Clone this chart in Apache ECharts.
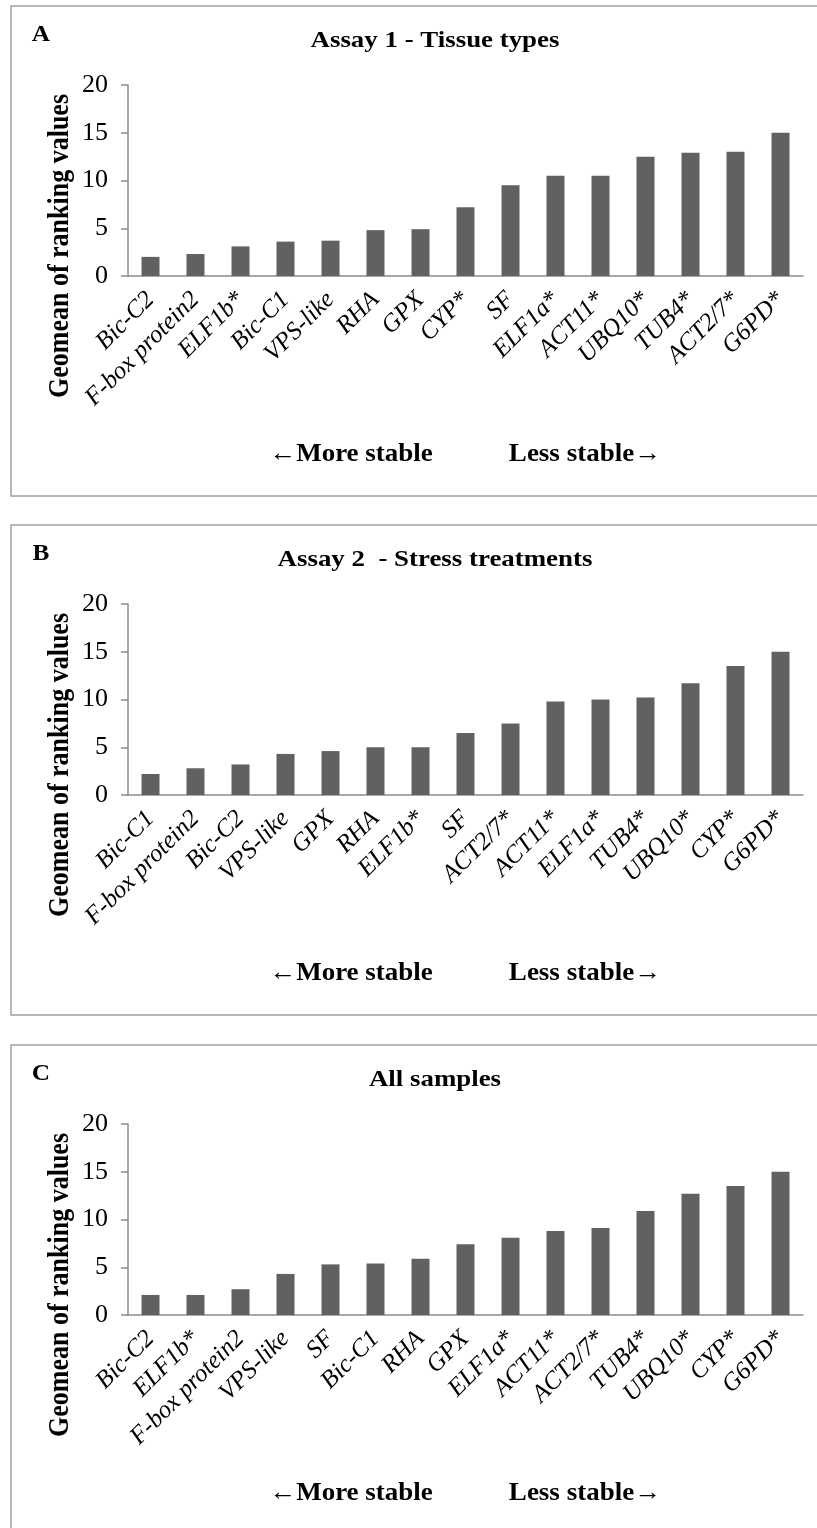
<!DOCTYPE html>
<html>
<head>
<meta charset="utf-8">
<script src="https://cdn.jsdelivr.net/npm/echarts@6/dist/echarts.min.js"></script>
<style>
  html, body { margin: 0; padding: 0; background: #fff; }
  #main { width: 817px; height: 1528px; }
</style>
</head>
<body>
<div id="main"></div>
<script>
// panel A - tissue types
var catsA = ['Bic-C2', 'F-box protein2', 'ELF1b*', 'Bic-C1', 'VPS-like', 'RHA', 'GPX', 'CYP*', 'SF', 'ELF1a*', 'ACT11*', 'UBQ10*', 'TUB4*', 'ACT2/7*', 'G6PD*']
var valsA = [2.0, 2.3, 3.1, 3.6, 3.7, 4.8, 4.9, 7.2, 9.5, 10.5, 10.5, 12.5, 12.9, 13.0, 15.0]

// panel B - stress treatments
var catsB = ['Bic-C1', 'F-box protein2', 'Bic-C2', 'VPS-like', 'GPX', 'RHA', 'ELF1b*', 'SF', 'ACT2/7*', 'ACT11*', 'ELF1a*', 'TUB4*', 'UBQ10*', 'CYP*', 'G6PD*']
var valsB = [2.2, 2.8, 3.2, 4.3, 4.6, 5.0, 5.0, 6.5, 7.5, 9.8, 10.0, 10.2, 11.7, 13.5, 15.0]

// panel C - all samples
var catsC = ['Bic-C2', 'ELF1b*', 'F-box protein2', 'VPS-like', 'SF', 'Bic-C1', 'RHA', 'GPX', 'ELF1a*', 'ACT11*', 'ACT2/7*', 'TUB4*', 'UBQ10*', 'CYP*', 'G6PD*']
var valsC = [2.1, 2.1, 2.7, 4.3, 5.3, 5.4, 5.9, 7.4, 8.1, 8.8, 9.1, 10.9, 12.7, 13.5, 15.0]

var letters = ['A', 'B', 'C']
var titles = ['Assay 1 - Tissue types', 'Assay 2  - Stress treatments', 'All samples']
var yName = 'Geomean of ranking values'
var moreStable = '\u2190More stable'
var lessStable = 'Less stable\u2192'

var myChart = echarts.init(document.getElementById('main'))
var serif = '"Liberation Serif", "Times New Roman", serif'
var axisColor = '#8c8c8c'

var panels = [
  { cats: catsA, vals: valsA },
  { cats: catsB, vals: valsB },
  { cats: catsC, vals: valsC }
]
var tops = [6, 525, 1045]

var grids = []
var xAxes = []
var yAxes = []
var series = []
var graphics = []

function label (x, y, text, font, extra) {
  var el = {
    type: 'text',
    x: x,
    y: y,
    scaleX: 1.1,
    style: { text: text, fill: '#000', font: font, textAlign: 'center', textVerticalAlign: 'middle' }
  }
  return Object.assign(el, extra || {})
}

panels.forEach(function (p, i) {
  var t = tops[i]

  grids.push({ left: 128, right: 14, top: t + 79, height: 191 })

  xAxes.push({
    type: 'category',
    gridIndex: i,
    data: p.cats,
    axisTick: { show: false },
    axisLine: { lineStyle: { color: axisColor, width: 1.5 } },
    axisLabel: {
      interval: 0,
      rotate: 45,
      margin: 20,
      color: '#000',
      fontFamily: serif,
      fontStyle: 'italic',
      fontSize: 25
    }
  })

  yAxes.push({
    type: 'value',
    gridIndex: i,
    min: 0,
    max: 20,
    interval: 5,
    splitLine: { show: false },
    axisLine: { show: true, lineStyle: { color: axisColor, width: 1.5 } },
    axisTick: { show: true, length: 7, lineStyle: { color: axisColor, width: 1.5 } },
    axisLabel: { margin: 20, color: '#000', fontFamily: serif, fontSize: 26 }
  })

  series.push({
    type: 'bar',
    xAxisIndex: i,
    yAxisIndex: i,
    data: p.vals,
    barWidth: 18,
    itemStyle: { color: '#616161' }
  })

  graphics.push(
    {
      type: 'rect',
      z: -1,
      shape: { x: 11, y: t, width: 850, height: 490 },
      style: { fill: 'none', stroke: '#a0a0a0', lineWidth: 1.5 }
    },
    label(41, t + 29, letters[i], 'bold 23px ' + serif),
    label(435, t + 35, titles[i], 'bold 24px ' + serif, { scaleX: 1.12 }),
    label(61, t + 240, yName, 'bold 26px ' + serif, { rotation: Math.PI / 2, scaleX: 1, scaleY: 1.1 }),
    label(351, t + 449, moreStable, 'bold 25px ' + serif, { scaleX: 1.08 }),
    label(585, t + 449, lessStable, 'bold 25px ' + serif, { scaleX: 1.08 })
  )
})

var option = {
  animation: false,
  backgroundColor: '#fff',
  grid: grids,
  xAxis: xAxes,
  yAxis: yAxes,
  series: series,
  graphic: graphics
}

option && myChart.setOption(option)
</script>
</body>
</html>
